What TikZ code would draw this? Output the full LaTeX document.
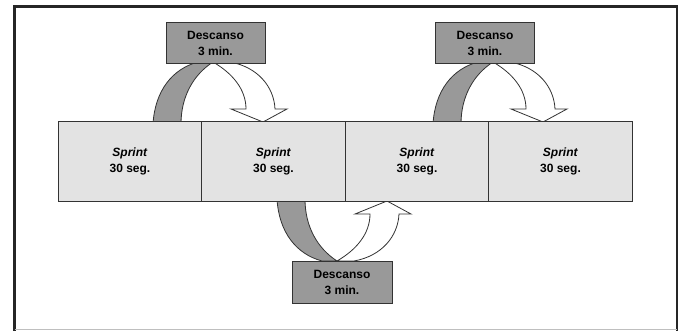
\documentclass[tikz,border=0pt]{standalone}
\usepackage{fontspec}
\setmainfont{Liberation Sans}
\definecolor{sprintfill}{HTML}{E3E3E3}
\definecolor{restfill}{HTML}{999999}
\definecolor{edge}{HTML}{333333}
\tikzset{
  sprintbox/.style={draw=edge, line width=0.9pt, fill=sprintfill, minimum width=143.5pt, minimum height=80pt, align=center, inner sep=0pt, font=\fontsize{12}{15.5}\selectfont\bfseries},
  restbox/.style={draw=edge, line width=0.9pt, fill=restfill, minimum width=99pt, minimum height=41pt, align=center, inner sep=0pt, font=\fontsize{12}{16}\selectfont\bfseries},
  arrowline/.style={draw=edge, line width=0.8pt},
  curvarrow/.pic={
    \path[arrowline, fill=restfill] (-59,61) .. controls (-57,28) and (-40,6) .. (-14,-1) -- (1,-1) .. controls (-19,12) and (-31,34) .. (-31,61) -- cycle;
    \path[arrowline, fill=white] (1,-1) .. controls (20,10) and (34,26) .. (34,46) -- (19,46) -- (51,59) -- (75,46) -- (63,46) .. controls (62,24) and (46,4) .. (18,-1) -- cycle;
  }
}
\begin{document}
\begin{tikzpicture}[x=1pt,y=-1pt]
\useasboundingbox (0,0) rectangle (681,330);
% frame
\draw[line width=2.6pt, color=black!85] (14.5,331) -- (14.5,6.5) -- (677,6.5) -- (677,331);
\draw[line width=0.6pt, color=black!25] (14.5,329.3) -- (677,329.3);
% curved arrows
\pic at (212,63) {curvarrow};
\pic at (492,63) {curvarrow};
\pic[yscale=-1] at (336,260) {curvarrow};
% sprint boxes
\node[sprintbox] (s1) at (130,161.5) {\textit{Sprint}\\30 seg.};
\node[sprintbox] (s2) at (273.5,161.5) {\textit{Sprint}\\30 seg.};
\node[sprintbox] (s3) at (417,161.5) {\textit{Sprint}\\30 seg.};
\node[sprintbox] (s4) at (560.5,161.5) {\textit{Sprint}\\30 seg.};
% rest boxes
\node[restbox] (d1) at (215.5,43) {Descanso\\3 min.};
\node[restbox] (d2) at (485,43) {Descanso\\3 min.};
\node[restbox, minimum width=100pt, minimum height=42pt] (d3) at (342,282.5) {Descanso\\3 min.};
\end{tikzpicture}
\end{document}
